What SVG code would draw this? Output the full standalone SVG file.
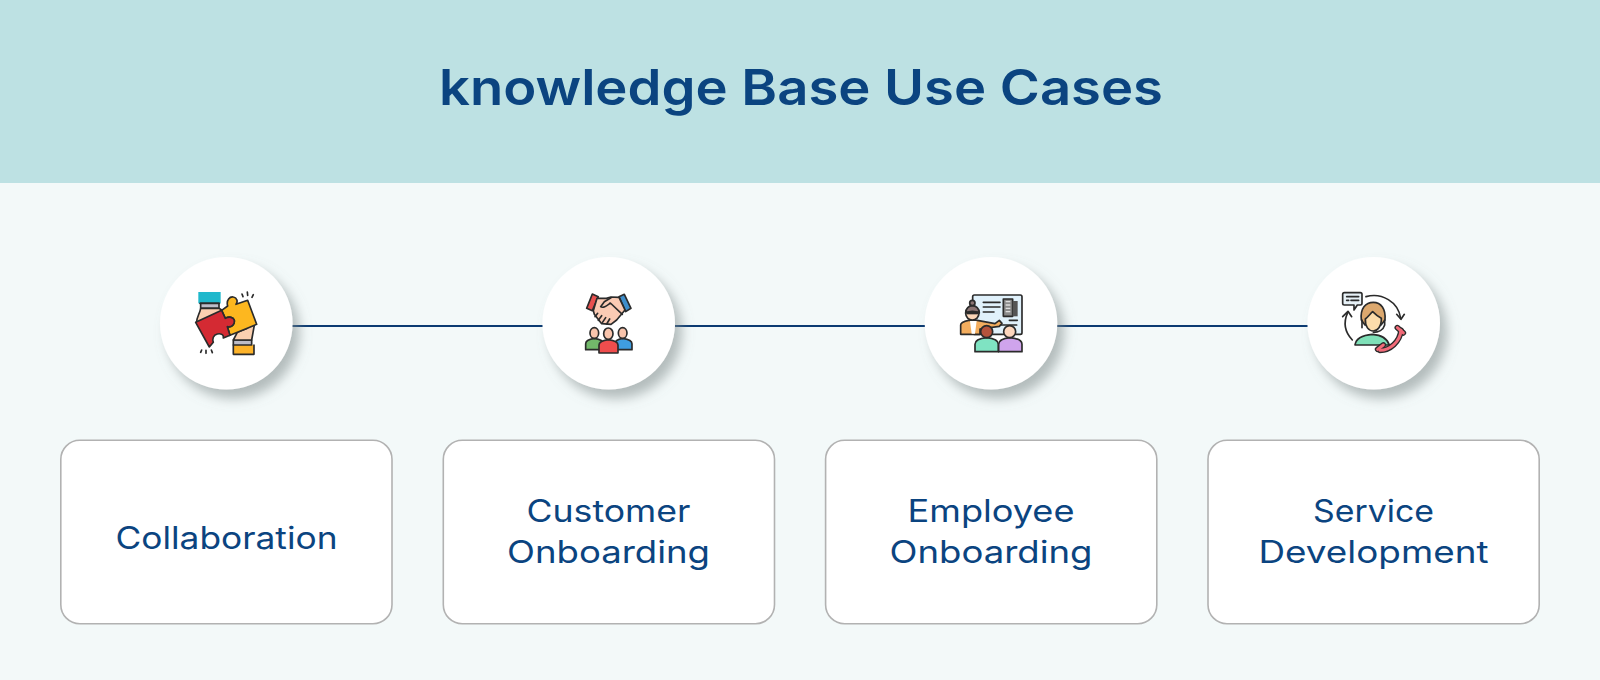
<svg xmlns="http://www.w3.org/2000/svg" width="1600" height="680" viewBox="0 0 1600 680">
<style>
.t{font-family:"Inter","Liberation Sans",sans-serif;fill:#0b4480;text-anchor:middle}
.title{font-size:50px;font-weight:600}
.lab{font-size:31px;font-weight:400}
.card{fill:#fff;stroke:#b2b2b2;stroke-width:1.6}
.disc{fill:#fff;filter:url(#sh)}
.o{stroke:#2b2b2b;stroke-width:5;stroke-linejoin:round;stroke-linecap:round}
.l{fill:none;stroke:#2b2b2b;stroke-width:5;stroke-linecap:round;stroke-linejoin:round}
</style>
<defs>
<filter id="sh" x="-30%" y="-30%" width="170%" height="170%"><feDropShadow dx="7" dy="9" stdDeviation="6" flood-color="#808a8a" flood-opacity=".55"/></filter>
</defs>
<rect width="1600" height="680" fill="#f3f9f9"/>
<rect width="1600" height="183" fill="#bde1e3"/>
<text class="t title" x="801" y="105" textLength="724" lengthAdjust="spacingAndGlyphs">knowledge Base Use Cases</text>
<g id="connectors" stroke="#0b3a72" stroke-width="2">
<line x1="292" y1="326" x2="543" y2="326"/>
<line x1="675" y1="326" x2="925" y2="326"/>
<line x1="1057" y1="326" x2="1308" y2="326"/>
</g>
<g id="node-collaboration">
<circle class="disc" cx="226.3" cy="323.3" r="66.3"/>
<g transform="translate(150 245) scale(.3333)">
<rect x="145" y="141" width="67" height="34" fill="#1fb8cc"/>
<path class="l" d="M150 175H208"/>
<rect class="o" x="152" y="175" width="55" height="15" fill="#bcbcc8"/>
<path class="o" d="M152 190C150 205 140 215 140 232L165 250L215 195L207 190Z" fill="#fbd0b0"/>
<rect x="250" y="300" width="62" height="28" fill="#fdb32a"/>
<path class="l" d="M250 300V328H312V300"/>
<rect class="o" x="250" y="285" width="55" height="15" fill="#bcbcc8"/>
<path class="o" d="M250 285L262 262L292 250L298 224L314 235L305 285Z" fill="#fbd0b0"/>
<path class="o" d="M215 196L233 183C228 165 240 154 250 156C262 158 264 170 258 178L293 166L320 238L292 250L240 271L232 245C245 248 255 238 253 226C250 216 238 214 226 220Z" fill="#fdb71f"/>
<path class="o" d="M137 232L215 196L226 220C238 214 250 216 253 226C255 238 245 248 232 245L240 271L220 279C222 268 212 265 202 267C190 270 186 282 190 292L178 306Z" fill="#d42a33"/>
<path class="l" d="M276 147l3 8M292 141l1 10M310 149l-4 8M152 322l3-7M168 325l0-9M187 323l-3-8" stroke-width="4"/>
</g>
<rect class="card" x="60.8" y="440.3" width="331.2" height="183.4" rx="19"/>
<text class="t lab" x="226.5" y="549" textLength="222" lengthAdjust="spacingAndGlyphs">Collaboration</text>
</g>
<g id="node-customer-onboarding">
<circle class="disc" cx="608.7" cy="323.3" r="66.3"/>
<g transform="translate(535 245) scale(.3333)">
<path class="o" d="M155 190L172 147L190 155L172 197Z" fill="#e8504f"/>
<path class="o" d="M252 155L268 148L288 190L272 200Z" fill="#3f8ecb"/>
<path class="o" d="M186 160L214 160L228 156L252 157L270 195L245 225L228 238L200 236L178 208L175 197Z" fill="#fbcbb4"/>
<path class="l" d="M228 158L208 170L197 185C205 192 218 180 226 174L262 208M188 205L180 215M200 212L190 226M212 218L202 233M224 222L215 237" stroke-width="4"/>
<path class="o" d="M152 314V296C152 285 165 282 178 280C192 282 205 286 205 296V314Z" fill="#72b86a"/>
<path class="o" d="M240 314V296C240 285 252 282 263 280C278 282 291 286 291 296V314Z" fill="#3f9de0"/>
<ellipse class="o" cx="178" cy="264" rx="13" ry="16" fill="#f8c4ac"/>
<ellipse class="o" cx="263" cy="264" rx="13" ry="16" fill="#f8c4ac"/>
<path class="o" d="M192 324V300C192 290 207 286 220 284C234 286 249 290 249 300V324Z" fill="#ef4d4d"/>
<ellipse class="o" cx="220" cy="266" rx="14" ry="17" fill="#f8c4ac"/>
</g>
<rect class="card" x="443.3" y="440.3" width="331.2" height="183.4" rx="19"/>
<text class="t lab" x="608.5" y="522" textLength="164" lengthAdjust="spacingAndGlyphs">Customer</text>
<text class="t lab" x="608.5" y="563" textLength="203" lengthAdjust="spacingAndGlyphs">Onboarding</text>
</g>
<g id="node-employee-onboarding">
<circle class="disc" cx="991" cy="323.3" r="66.3"/>
<g transform="translate(920 245) scale(.3333)">
<rect class="o" x="158" y="150" width="148" height="118" rx="5" fill="#e0f1fb"/>
<path class="l" d="M190 172H240M190 186H240M190 201H222M240 240H290M268 226H292"/>
<rect class="o" x="250" y="162" width="28" height="52" fill="#8b8b8b"/>
<rect x="278" y="168" width="15" height="46" fill="#555"/>
<path d="M257 170h14M257 180h14M257 190h14M257 200h14" stroke="#ddd" stroke-width="4"/>
<path class="o" d="M122 268V240C122 232 135 228 146 226L172 226L225 236L238 226L246 235L238 244L180 252V268Z" fill="#f3ad5e"/>
<path d="M150 228H170L165 266H155Z" fill="#fff"/>
<circle class="o" cx="157" cy="205" r="20" fill="#fbd6b8"/>
<path class="o" d="M137 204C137 190 147 182 157 182C168 182 178 190 178 204C165 198 150 198 137 204Z" fill="#8a7473"/>
<circle class="o" cx="157" cy="174" r="8" fill="#8a7473"/>
<rect x="140" y="199" width="34" height="9" fill="#2b2b2b"/>
<path class="o" d="M165 320V298C165 285 178 280 200 278C222 280 235 285 235 298V320Z" fill="#7fe3c2"/>
<path class="o" d="M236 320V298C236 285 250 280 270 278C292 280 306 285 306 298V320Z" fill="#cfa4ec"/>
<circle class="o" cx="200" cy="260" r="18" fill="#b5533c"/>
<circle class="o" cx="269" cy="260" r="18" fill="#fcd6bd"/>
</g>
<rect class="card" x="825.6" y="440.3" width="331.2" height="183.4" rx="19"/>
<text class="t lab" x="991" y="522" textLength="167" lengthAdjust="spacingAndGlyphs">Employee</text>
<text class="t lab" x="991" y="563" textLength="203" lengthAdjust="spacingAndGlyphs">Onboarding</text>
</g>
<g id="node-service-development">
<circle class="disc" cx="1373.7" cy="323.3" r="66.3"/>
<g transform="translate(1300 245) scale(.3333)">
<path class="o" d="M133 143H181Q186 143 186 148V175Q186 180 181 180H172L162 195V180H133Q128 180 128 175V148Q128 143 133 143Z" fill="#e7f1f7"/>
<path class="l" d="M140 155H176M140 166H146M153 166H176" stroke-width="3"/>
<path class="l" d="M198 155C245 142 295 170 302 220M157 285C135 262 130 232 143 203"/>
<path class="l" d="M290 208L303 223L313 208M128 215L144 199L155 215"/>
<path class="o" d="M165 300C168 280 190 270 217 268C245 270 262 280 268 300Z" fill="#7fe0b8"/>
<path class="o" d="M184 225C180 190 197 172 220 172C243 172 258 192 255 225L243 240H195Z" fill="#dca86e"/>
<path class="o" d="M196 222C205 215 212 205 218 200C226 208 234 215 244 220C245 245 232 258 220 258C206 258 195 245 196 222Z" fill="#fcdcab"/>
<path class="l" d="M186 225V248M254 225V240M254 240C250 255 235 262 220 262"/>
<path d="M240 316C270 316 300 290 303 256" fill="none" stroke="#2b2b2b" stroke-width="17" stroke-linecap="round"/>
<path d="M233 313L250 300M292 248L310 264" fill="none" stroke="#2b2b2b" stroke-width="17" stroke-linecap="round"/>
<path d="M240 316C270 316 300 290 303 256" fill="none" stroke="#f26a78" stroke-width="9" stroke-linecap="round"/>
<path d="M233 313L250 300M292 248L310 264" fill="none" stroke="#f26a78" stroke-width="9" stroke-linecap="round"/>
</g>
<rect class="card" x="1208" y="440.3" width="331.2" height="183.4" rx="19"/>
<text class="t lab" x="1373.5" y="522" textLength="121" lengthAdjust="spacingAndGlyphs">Service</text>
<text class="t lab" x="1373.5" y="563" textLength="230" lengthAdjust="spacingAndGlyphs">Development</text>
</g>
</svg>
